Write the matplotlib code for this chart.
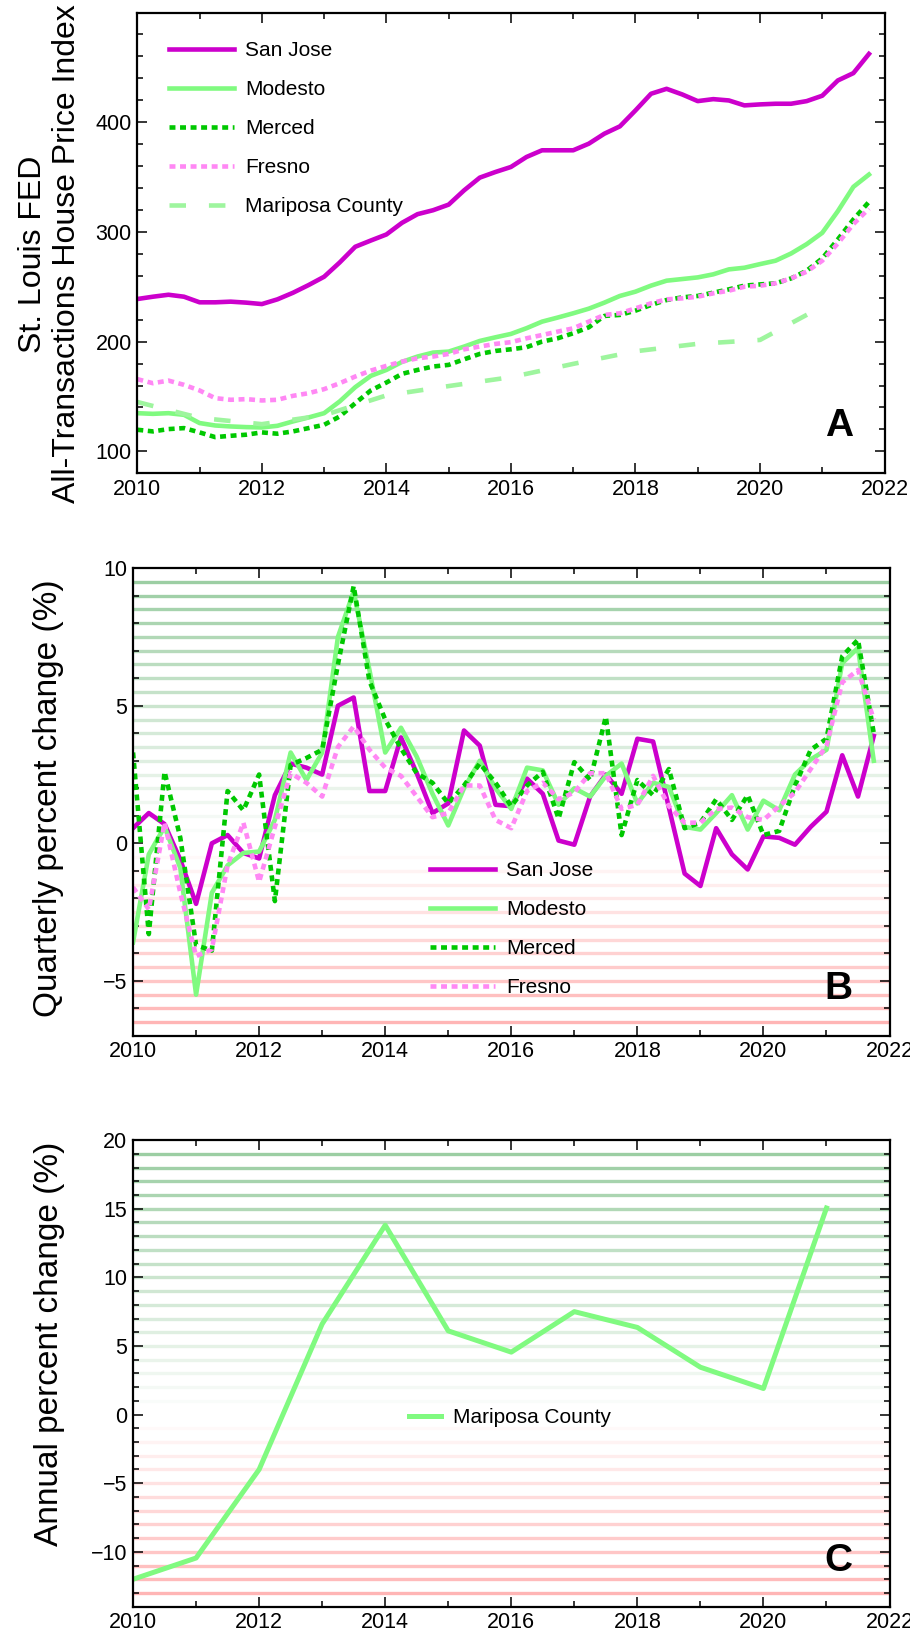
import numpy as np
import pandas as pd
import matplotlib
matplotlib.use('Agg')
import matplotlib.pyplot as plt
from matplotlib.ticker import MultipleLocator

plt.rcParams['font.family'] = ['Liberation Sans', 'DejaVu Sans']

# quarterly dates 2010Q1 .. 2021Q4 as decimal years
quarters = pd.period_range('2010Q1', '2021Q4', freq='Q')
t_q = np.asarray(quarters.year + (quarters.quarter - 1) / 4.0, dtype=float)
years = np.arange(2010, 2022)

# panel A: house price index
hpi_sanjose = [238.8, 240.9, 242.7, 240.9, 235.8, 235.8, 236.4, 235.5, 234.2, 238.5, 244.5, 251.5,
               259.1, 272.1, 286.4, 292.1, 297.6, 308.2, 316.1, 319.7, 324.8, 337.9, 349.4, 354.5,
               359.1, 368.2, 374.3, 374.3, 374.3, 380.3, 389.4, 396.1, 410.6, 425.8, 430.3, 425.2,
               419.1, 420.9, 419.7, 415.2, 416.1, 416.7, 416.7, 419.1, 424.0, 437.9, 444.6, 462.1]
hpi_modesto = [134.8, 134.2, 134.8, 133.3, 125.8, 123.6, 122.7, 122.1, 121.8, 123.3, 127.3, 130.9,
               134.8, 145.5, 158.5, 168.8, 174.2, 181.5, 186.4, 190.0, 190.9, 195.5, 200.6, 203.9,
               207.0, 212.2, 218.2, 221.9, 225.8, 230.0, 235.5, 241.6, 245.5, 251.0, 255.5, 257.0,
               258.5, 261.3, 265.8, 267.3, 270.6, 273.7, 280.3, 288.8, 299.1, 318.8, 341.0, 352.2]
hpi_merced = [119.7, 118.2, 120.3, 121.2, 117.3, 113.0, 114.2, 115.2, 117.3, 116.1, 118.2, 121.2,
              124.2, 131.8, 143.9, 155.5, 162.7, 170.6, 174.2, 177.3, 178.8, 183.9, 188.8, 191.5,
              193.0, 194.9, 200.0, 203.0, 207.6, 213.0, 223.4, 224.3, 228.2, 233.4, 237.9, 240.3,
              241.6, 244.6, 247.6, 251.0, 252.1, 253.1, 257.6, 264.6, 275.8, 293.1, 311.3, 327.3]
hpi_fresno = [165.8, 162.1, 164.5, 160.6, 155.5, 148.5, 147.0, 147.6, 146.4, 147.0, 150.6, 153.0,
              156.7, 162.1, 168.2, 173.6, 177.9, 181.8, 184.8, 186.4, 188.8, 193.0, 195.5, 197.9,
              199.5, 203.0, 206.0, 209.1, 212.1, 218.2, 224.3, 225.8, 230.3, 234.9, 238.5, 239.4,
              240.9, 244.0, 246.4, 250.0, 250.9, 253.1, 257.6, 263.7, 273.7, 289.4, 307.0, 321.2]
hpi_mariposa = [145.0, 130.5, 124.8, 133.0, 151.0, 159.5, 167.6, 179.7, 191.2, 198.0, 201.5, 232.0]

# panel B: quarterly percent change
qc_sanjose = [0.55, 1.1, 0.7, -0.6, -2.2, 0.0, 0.3, -0.35, -0.55, 1.75, 2.9, 2.75,
              2.5, 5.0, 5.3, 1.9, 1.9, 3.85, 2.55, 1.1, 1.45, 4.1, 3.55, 1.4,
              1.35, 2.35, 1.8, 0.1, -0.05, 1.7, 2.5, 1.8, 3.8, 3.7, 1.3, -1.1,
              -1.55, 0.55, -0.4, -0.95, 0.25, 0.2, -0.05, 0.6, 1.15, 3.2, 1.7, 3.9]
qc_modesto = [-3.6, -0.4, 0.6, -0.9, -5.5, -1.8, -0.8, -0.35, -0.3, 0.85, 3.3, 2.3,
              3.3, 7.5, 9.15, 6.3, 3.3, 4.2, 3.15, 1.8, 0.65, 2.0, 3.0, 2.0,
              1.25, 2.75, 2.65, 1.4, 2.0, 1.7, 2.45, 2.9, 1.45, 2.2, 2.05, 0.6,
              0.5, 1.1, 1.75, 0.5, 1.55, 1.2, 2.5, 3.05, 3.4, 6.55, 7.1, 3.0]
qc_merced = [3.3, -3.3, 2.6, 0.2, -3.7, -3.9, 1.9, 1.2, 2.5, -2.1, 2.85, 3.1,
             3.4, 6.5, 9.35, 5.9, 4.5, 3.45, 2.55, 2.2, 1.45, 2.1, 2.9, 2.2,
             1.35, 2.1, 2.6, 0.9, 2.95, 2.3, 4.6, 0.3, 2.3, 1.75, 2.7, 0.55,
             0.75, 1.6, 0.85, 1.75, 0.3, 0.45, 2.1, 3.4, 3.8, 6.8, 7.4, 4.0]
qc_fresno = [-1.6, -2.4, 0.75, -1.8, -4.1, -3.85, -0.8, 0.75, -1.4, 0.6, 2.55, 2.2,
             1.7, 3.5, 4.25, 3.4, 2.75, 2.45, 1.7, 0.95, 1.1, 2.1, 2.1, 0.85,
             0.55, 1.9, 2.2, 1.6, 1.85, 2.55, 2.55, 1.25, 1.4, 2.45, 1.35, 0.75,
             0.75, 1.25, 1.3, 0.95, 0.85, 1.35, 1.85, 2.7, 3.55, 5.85, 6.3, 4.5]

# panel C: annual percent change
ac_mariposa = [-12.0, -10.45, -4.0, 6.6, 13.8, 6.1, 4.55, 7.5, 6.35, 3.45, 1.9, 15.05]

c_sj = '#cc00cc'
c_mod = '#80fa80'
c_mer = '#00c800'
c_fre = '#ff88f4'
c_mar = '#9ef59e'
LW = 3.3
dots = (0, (1.3, 1.0))


def bands(ax, step, top, bottom):
    pos = np.arange(step, top - step / 2, step)
    for v in pos:
        ax.axhline(v, color='#9ccea3', alpha=v / pos.max(), lw=2.4, zorder=0)
    neg = np.arange(-step, bottom + step / 2, -step)
    for v in neg:
        ax.axhline(v, color='#ffb5b5', alpha=v / neg.min(), lw=2.4, zorder=0)


def style(ax, ymaj, ymin):
    ax.set_xlim(2010, 2022)
    ax.xaxis.set_major_locator(MultipleLocator(2))
    ax.xaxis.set_minor_locator(MultipleLocator(1))
    ax.yaxis.set_major_locator(MultipleLocator(ymaj))
    ax.yaxis.set_minor_locator(MultipleLocator(ymin))
    ax.tick_params(which='both', direction='in', top=True, right=True, width=1.1,
                   labelsize=15.5, pad=4)
    ax.tick_params(which='major', length=7)
    ax.tick_params(which='minor', length=4.3)
    for s in ax.spines.values():
        s.set_linewidth(1.6)


leg_kw = dict(frameon=False, fontsize=15, handletextpad=0.55, borderpad=0, borderaxespad=0)

fig = plt.figure(figsize=(9.1, 16.35), dpi=100)

# ---- A
axA = fig.add_axes([0.1509, 0.7105, 0.8211, 0.2813])
axA.plot(t_q, hpi_sanjose, color=c_sj, lw=LW, label='San Jose')
axA.plot(t_q, hpi_modesto, color=c_mod, lw=LW, label='Modesto')
axA.plot(t_q, hpi_merced, color=c_mer, lw=LW, ls=dots, label='Merced')
axA.plot(t_q, hpi_fresno, color=c_fre, lw=LW, ls=dots, label='Fresno')
axA.plot(years, hpi_mariposa, color=c_mar, lw=LW, ls=(0, (3.6, 5.0)), label='Mariposa County')
axA.set_ylim(80, 499)
style(axA, 100, 20)
axA.legend(loc='center left', bbox_to_anchor=(0.043, 0.75), handlelength=3.1,
           labelspacing=0.96, **leg_kw)
axA.text(0.939, 0.103, 'A', transform=axA.transAxes, fontsize=28, fontweight='bold',
         ha='center', va='center')
fig.text(50 / 910, 1 - 254 / 1635, 'St. Louis FED\nAll-Transactions House Price Index',
         rotation=90, ha='center', va='center', fontsize=23, linespacing=1.15)

# ---- B
axB = fig.add_axes([0.1462, 0.3664, 0.8313, 0.2861])
bands(axB, 0.5, 10, -7)
axB.plot(t_q, qc_sanjose, color=c_sj, lw=LW, label='San Jose')
axB.plot(t_q, qc_modesto, color=c_mod, lw=LW, label='Modesto')
axB.plot(t_q, qc_merced, color=c_mer, lw=LW, ls=dots, label='Merced')
axB.plot(t_q, qc_fresno, color=c_fre, lw=LW, ls=dots, label='Fresno')
axB.set_ylim(-7, 10)
style(axB, 5, 1)
axB.legend(loc='center left', bbox_to_anchor=(0.3926, 0.2277), handlelength=3.1,
           labelspacing=0.96, **leg_kw)
axB.text(0.932, 0.1005, 'B', transform=axB.transAxes, fontsize=28, fontweight='bold',
         ha='center', va='center')
fig.text(49 / 910, 1 - 798.5 / 1635, 'Quarterly percent change (%)',
         rotation=90, ha='center', va='center', fontsize=24)

# ---- C
axC = fig.add_axes([0.1462, 0.0173, 0.8313, 0.2854])
bands(axC, 1, 20, -14)
axC.plot(years, ac_mariposa, color=c_mod, lw=3.6, label='Mariposa County')
axC.set_ylim(-14, 20)
style(axC, 5, 1)
axC.legend(loc='center left', bbox_to_anchor=(0.365, 0.405), handlelength=1.55, **leg_kw)
axC.text(0.932, 0.099, 'C', transform=axC.transAxes, fontsize=28, fontweight='bold',
         ha='center', va='center')
fig.text(50 / 910, 1 - 1343.5 / 1635, 'Annual percent change (%)',
         rotation=90, ha='center', va='center', fontsize=24)

fig.savefig('out.png', dpi=100)
